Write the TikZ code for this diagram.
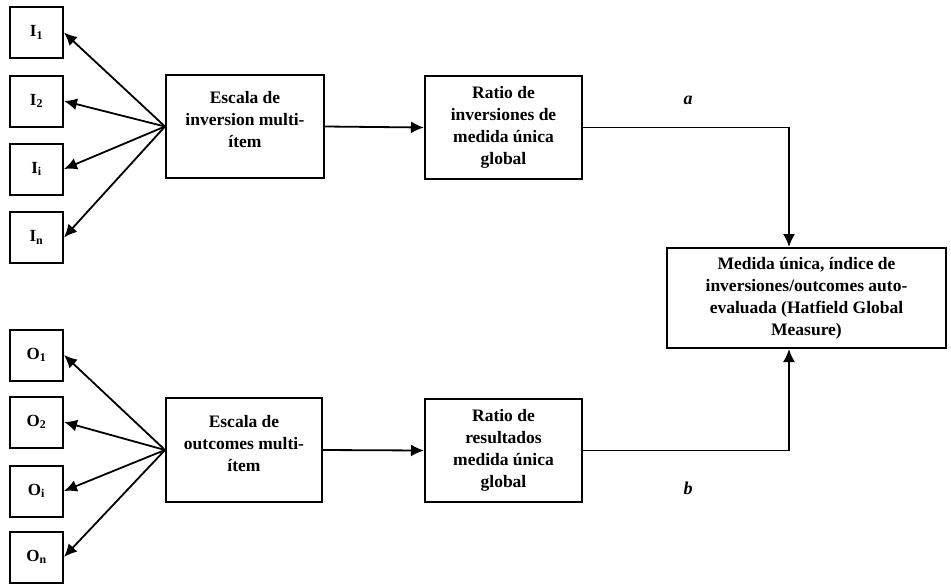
\documentclass[tikz,border=0pt]{standalone}
\usepackage{fontspec}
\setmainfont{Liberation Serif}
\usetikzlibrary{arrows.meta}
\tikzset{
  smallbox/.style={draw,line width=2pt,minimum width=53pt,minimum height=51pt,inner sep=0pt,font=\bfseries\fontsize{17}{18}\selectfont},
  bigbox/.style={draw,line width=2pt,inner sep=0pt,align=center,font=\bfseries\fontsize{17.5}{22}\selectfont},
  arr/.style={line width=1.8pt,-{Latex[length=13pt,width=12pt]}},
  lbl/.style={font=\bfseries\itshape\fontsize{18}{18}\selectfont}
}
\begin{document}
\begin{tikzpicture}[x=1pt,y=-1pt]
\path[use as bounding box,fill=white] (0,0) rectangle (951,584);
% input items
\node[smallbox] (I1) at (36.5,32.5) {I\textsubscript{1}};
\node[smallbox] (I2) at (36.5,101) {I\textsubscript{2}};
\node[smallbox] (Ii) at (36.5,169) {I\textsubscript{i}};
\node[smallbox] (In) at (36.5,237.5) {I\textsubscript{n}};
% outcome items
\node[smallbox] (O1) at (36.5,355) {O\textsubscript{1}};
\node[smallbox] (O2) at (36.5,422) {O\textsubscript{2}};
\node[smallbox] (Oi) at (36.5,491) {O\textsubscript{i}};
\node[smallbox] (On) at (36.5,557) {O\textsubscript{n}};
% main boxes
\node[bigbox,minimum width=158pt,minimum height=103pt] (esc1) at (245,126.5) {Escala de\\inversion multi-\\ítem\\[-8pt]};
\node[bigbox,minimum width=157pt,minimum height=103pt] (rat1) at (503.5,127.5) {Ratio de\\inversiones de\\medida única\\global};
\node[bigbox,minimum width=156pt,minimum height=104pt] (esc2) at (244,450) {Escala de\\outcomes multi-\\ítem\\[-8pt]};
\node[bigbox,minimum width=157pt,minimum height=103pt] (rat2) at (503.5,450.5) {Ratio de\\resultados\\medida única\\global};
\node[bigbox,minimum width=279pt,minimum height=100pt] (meas) at (806.5,298) {Medida única, índice de\\inversiones/outcomes auto-\\evaluada (Hatfield Global\\Measure)};
% labels
\node[lbl] (la) at (688,100) {a};
\node[lbl] (lb) at (688,488) {b};
% connectors
\foreach \t in {I1,I2,Ii,In} \draw[arr] (esc1.west) -- (\t.east);
\foreach \t in {O1,O2,Oi,On} \draw[arr] (esc2.west) -- (\t.east);
\draw[arr] (esc1.east) -- (rat1.west);
\draw[arr] (esc2.east) -- (rat2.west);
\draw[arr] (rat1.east) -| ([xshift=-17.5pt]meas.north);
\draw[arr] (rat2.east) -| ([xshift=-17.5pt]meas.south);
\end{tikzpicture}
\end{document}
